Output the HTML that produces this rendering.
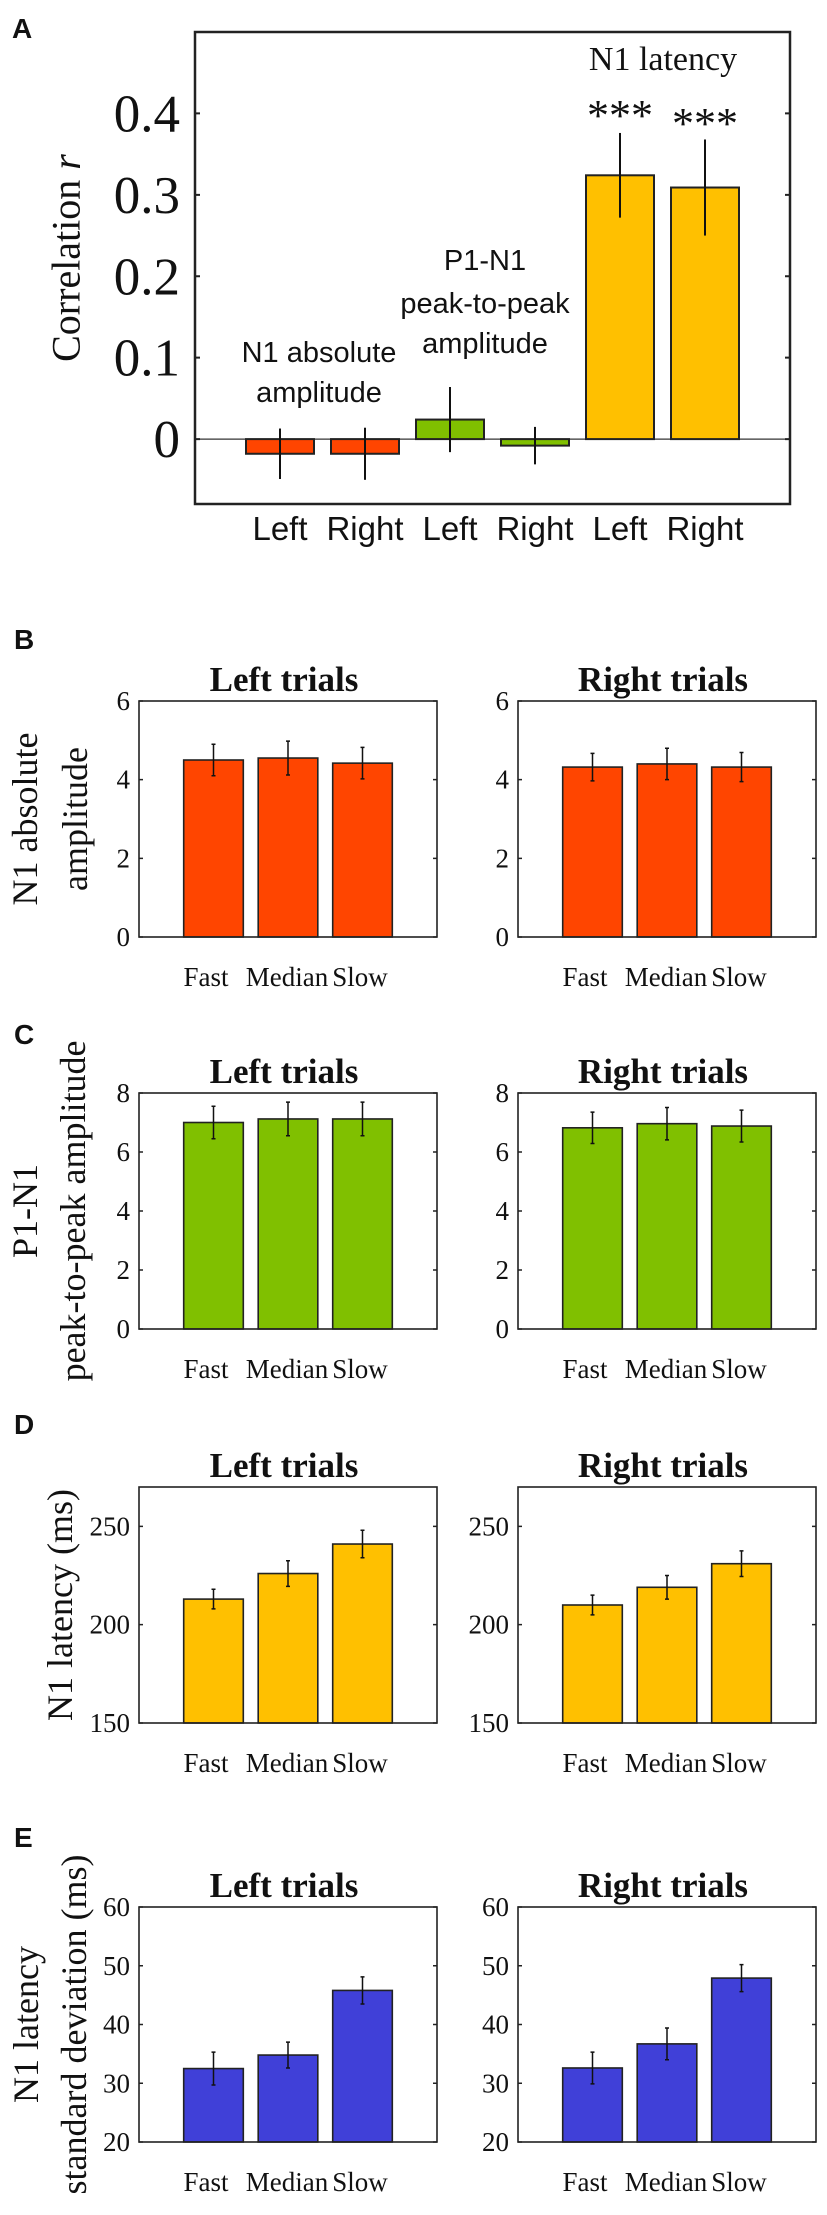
<!DOCTYPE html>
<html><head><meta charset="utf-8"><style>
html,body{margin:0;padding:0;background:#fff}
svg{display:block}
.tm{font-family:"Liberation Serif",serif;fill:#111}
.ss{font-family:"Liberation Sans",sans-serif;fill:#111}
</style></head><body>
<svg id="fig" width="827" height="2215" viewBox="0 0 827 2215" xmlns="http://www.w3.org/2000/svg">
<g id="pA"></g>
<g id="pB"></g>
<g id="pC"></g>
<g id="pD"></g>
<g id="pE"></g>
</svg>
<script>
// Panel A data
const aCategories = ["Left","Right","Left","Right","Left","Right"];
const aValues = [-0.018,-0.018,0.024,-0.008,0.324,0.309];
const aErrors = [0.031,0.032,0.04,0.023,0.052,0.059];
const aTicks = [0,0.1,0.2,0.3,0.4];
const aTickLabels = ["0","0.1","0.2","0.3","0.4"];
// Panels B-E data
const condCategories = ["Fast","Median","Slow"];
const bLeftValues = [4.5,4.55,4.42]; const bLeftErrors = [0.4,0.43,0.4];
const bRightValues = [4.32,4.4,4.32]; const bRightErrors = [0.35,0.4,0.37];
const bTicks = [0,2,4,6];
const cLeftValues = [7.0,7.12,7.12]; const cLeftErrors = [0.55,0.57,0.57];
const cRightValues = [6.82,6.96,6.88]; const cRightErrors = [0.53,0.55,0.54];
const cTicks = [0,2,4,6,8];
const dLeftValues = [213,226,241]; const dLeftErrors = [5,6.5,7];
const dRightValues = [210,219,231]; const dRightErrors = [5,6,6.5];
const dTicks = [150,200,250];
const eLeftValues = [32.5,34.8,45.8]; const eLeftErrors = [2.8,2.2,2.3];
const eRightValues = [32.6,36.7,47.9]; const eRightErrors = [2.7,2.7,2.3];
const eTicks = [20,30,40,50,60];

const NS="http://www.w3.org/2000/svg";
function mk(parent,tag,attrs,txt){const e=document.createElementNS(NS,tag);for(const k in attrs)e.setAttribute(k,attrs[k]);if(txt!==undefined)e.textContent=txt;parent.appendChild(e);return e;}

// ---------- Panel A ----------
(function(){
  const g=document.getElementById('pA');
  const L=195,R=790,T=32,B=504;
  const xMin=0,xMax=7,yMin=-0.0797,yMax=0.5;
  const xs=v=>L+(v-xMin)/(xMax-xMin)*(R-L);
  const ys=v=>B-(v-yMin)/(yMax-yMin)*(B-T);
  const colors=["#FF4500","#FF4500","#80C000","#80C000","#FFC000","#FFC000"];
  let t=mk(g,'text',{x:12,y:38,class:'ss','font-size':28,'font-weight':'bold'},'A');
  
  
  t=mk(g,'text',{class:'tm','font-size':40,'text-anchor':'middle',transform:`translate(66,${(T+B)/2-10}) rotate(-90)`,'dominant-baseline':'central'});
  
  
  t.innerHTML='Correlation <tspan font-style="italic">r</tspan>';
  // zero line
  const z=mk(g,'line',{x1:L,x2:R,y1:ys(0),y2:ys(0),stroke:'#333','stroke-width':1.3});
  
  
  aValues.forEach((v,i)=>{
    const cx=xs(i+1),w=(xs(0.8)-xs(0));
    const y0=ys(0),y1=ys(v);
    const r=mk(g,'rect',{x:cx-w/2,y:Math.min(y0,y1),width:w,height:Math.abs(y1-y0),fill:colors[i],stroke:'#222','stroke-width':2});
    
    
    const e=mk(g,'line',{x1:cx,x2:cx,y1:ys(v-aErrors[i]),y2:ys(v+aErrors[i]),stroke:'#111','stroke-width':2});
    
    
    const lb=mk(g,'text',{x:cx,y:540,class:'ss','font-size':33,'text-anchor':'middle'},aCategories[i]);
    
    
  });
  aTicks.forEach((v,i)=>{
    const y=ys(v);
    const tk=mk(g,'path',{d:`M${L},${y}h5M${R},${y}h-5`,stroke:'#222','stroke-width':2});
    
    
    const tl=mk(g,'text',{x:L-15,y:y+18,class:'tm','font-size':53,'text-anchor':'end'},aTickLabels[i]);
    
    
  });
  const bx=mk(g,'rect',{x:L,y:T,width:R-L,height:B-T,fill:'none',stroke:'#222','stroke-width':2.5});
  
  
  const ann=[["N1 latency",663,70,'tm',34],["P1-N1",485,270,'ss',29],["peak-to-peak",485,313,'ss',29],["amplitude",485,353,'ss',29],["N1 absolute",319,362,'ss',29],["amplitude",319,402,'ss',29]];
  ann.forEach(a=>{
    const at=mk(g,'text',{x:a[1],y:a[2],class:a[3],'font-size':a[4],'text-anchor':'middle'},a[0]);
    
    
  });
  [[4,130],[5,138]].forEach(s=>{
    const st=mk(g,'text',{x:xs(s[0]+1),y:s[1],class:'tm','font-size':44,'text-anchor':'middle'},'***');
    
    
  });
})();

// ---------- Panels B-E ----------
function panel(gid,letter,letterY,top,bot,ymin,ymax,ticks,leftV,leftE,rightV,rightE,color,ylabLines,ylabX){
  const g=document.getElementById(gid);
  let t=mk(g,'text',{x:14,y:letterY+12,class:'ss','font-size':28,'font-weight':'bold'},letter);
  
  
  ylabLines.forEach((ln,k)=>{
    const yl=mk(g,'text',{class:'tm','font-size':36,'text-anchor':'middle','dominant-baseline':'central',transform:`translate(${ylabX[k]},${(top+bot)/2}) rotate(-90)`},ln);
    
    
  });
  [[139,437,"Left trials",leftV,leftE],[518,816,"Right trials",rightV,rightE]].forEach((p,pi)=>{
    const L=p[0],R=p[1];
    const sg=mk(g,'g',{});
    
    
    const xs=v=>L+v/4*(R-L);
    const ys=v=>bot-(v-ymin)/(ymax-ymin)*(bot-top);
    const ti=mk(sg,'text',{x:(L+R)/2-4,y:top-10,class:'tm','font-size':35,'font-weight':'bold','text-anchor':'middle'},p[2]);
    
    
    p[3].forEach((v,i)=>{
      const cx=xs(i+1),w=xs(0.8)-xs(0);
      const r=mk(sg,'rect',{x:cx-w/2,y:ys(v),width:w,height:ys(ymin)-ys(v),fill:color,stroke:'#222','stroke-width':1.6});
      
      
      const e=p[4][i];
      const eb=mk(sg,'path',{d:`M${cx},${ys(v-e)}V${ys(v+e)}M${cx-2},${ys(v-e)}h4M${cx-2},${ys(v+e)}h4`,stroke:'#111','stroke-width':1.5,fill:'none'});
      
      
      const lb=mk(sg,'text',{x:[206,287,360][i]+(L-139),y:bot+49,class:'tm','font-size':27,'text-anchor':'middle'},condCategories[i]);
      
      
    });
    ticks.forEach(v=>{
      const y=ys(v);
      const tk=mk(sg,'path',{d:`M${L},${y}h4M${R},${y}h-4`,stroke:'#222','stroke-width':1.5});
      
      
      const tl=mk(sg,'text',{x:L-9,y:y+9,class:'tm','font-size':27,'text-anchor':'end'},String(v));
      
      
    });
    const bx=mk(sg,'rect',{x:L,y:top,width:R-L,height:bot-top,fill:'none',stroke:'#222','stroke-width':1.6});
    
    
  });
}
panel('pB','B',637,701,937,0,6,bTicks,bLeftValues,bLeftErrors,bRightValues,bRightErrors,'#FF4500',["N1 absolute","amplitude"],[25,75]);
panel('pC','C',1032,1093,1329,0,8,cTicks,cLeftValues,cLeftErrors,cRightValues,cRightErrors,'#80C000',["P1-N1","peak-to-peak amplitude"],[25,73]);
panel('pD','D',1422,1487,1723,150,270,dTicks,dLeftValues,dLeftErrors,dRightValues,dRightErrors,'#FFC000',["N1 latency (ms)"],[60]);
panel('pE','E',1835,1907,2142,20,60,eTicks,eLeftValues,eLeftErrors,eRightValues,eRightErrors,'#4040D8',["N1 latency","standard deviation (ms)"],[26,74]);
</script>
</body></html>
